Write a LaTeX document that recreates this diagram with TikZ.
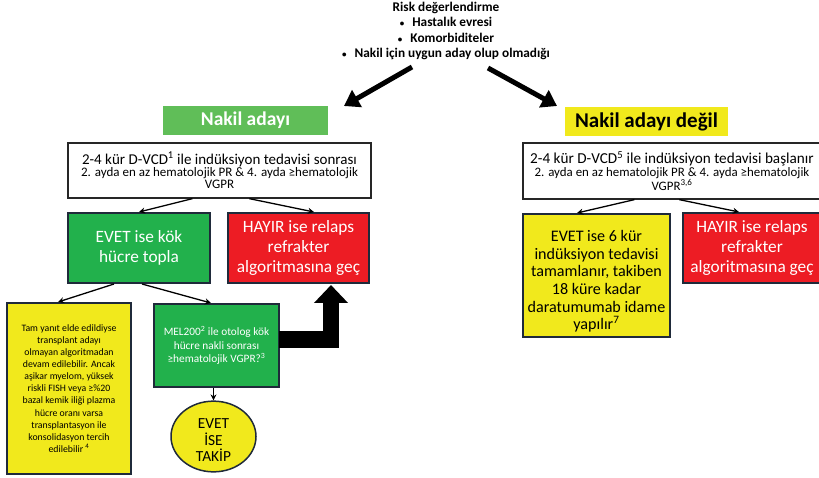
\documentclass[tikz,border=0pt]{standalone}
\usepackage{fontspec}
\setmainfont{Carlito}
\usetikzlibrary{arrows.meta,shapes.geometric,calc}

\definecolor{hgreen}{RGB}{96,190,88}
\definecolor{bgreen}{RGB}{34,177,76}
\definecolor{bred}{RGB}{237,28,36}
\definecolor{byellow}{RGB}{241,233,28}
\definecolor{edge}{RGB}{31,42,58}

\newcommand{\blt}{{\fontsize{9}{9}\selectfont •}\hspace{8pt}}

\tikzset{
  heading/.style={inner sep=0, minimum height=29pt, font=\fontsize{19.5}{22}\selectfont\bfseries},
  whitebox/.style={draw=black!85, line width=1.3pt, fill=white, inner sep=0, align=center},
  colbox/.style={draw=edge, line width=2pt, inner sep=0, align=center},
  thin/.style={line width=1.3pt, -{Stealth[length=6pt,width=6pt]}},
  bigarrow/.style={line width=5pt, -{Triangle[length=15pt,width=19pt]}},
}

\begin{document}
\begin{tikzpicture}[x=1pt,y=-1pt]
\useasboundingbox (0,0) rectangle (819,478);

% assessment header
\node[align=center, font=\fontsize{13.3}{15.3}\selectfont\bfseries] (risk) at (446,31)
  {Risk değerlendirme\\
   \blt Hastalık evresi\\
   \blt Komorbiditeler\\
   \blt Nakil için uygun aday olup olmadığı};

% branch headings
\node[heading, fill=hgreen, text=white, minimum width=165pt] (cand) at (245.5,120.5) {Nakil adayı};
\node[heading, fill=byellow, text=black, minimum width=163pt,
      font=\fontsize{21}{23}\selectfont\bfseries] (noncand) at (646.5,121.5) {Nakil adayı değil};

\coordinate (la0) at (412,67);
\coordinate (la1) at (344,106);
\coordinate (ra0) at (488,68);
\coordinate (ra1) at (557,106);
\draw[bigarrow] (la0) -- (la1);
\draw[bigarrow] (ra0) -- (ra1);

% induction boxes
\node[whitebox, minimum width=303pt, minimum height=55pt] (lw) at (219.5,170.5)
  {\fontsize{15}{15}\selectfont 2-4 kür D-VCD\textsuperscript{1} ile indüksiyon tedavisi sonrası\\[0.5pt]
   \fontsize{13}{13.5}\selectfont 2. ayda en az hematolojik PR \& 4. ayda ≥hematolojik\\
   \fontsize{13}{13.5}\selectfont VGPR};
\node[whitebox, minimum width=298pt, minimum height=56pt] (rw) at (672,171)
  {\fontsize{15.2}{15}\selectfont 2-4 kür D-VCD\textsuperscript{5} ile indüksiyon tedavisi başlanır\\[0.5pt]
   \fontsize{12.9}{13.5}\selectfont 2. ayda en az hematolojik PR \& 4. ayda ≥hematolojik\\
   \fontsize{12.9}{13.5}\selectfont VGPR\textsuperscript{3,6}};

% transplant-candidate branch
\node[colbox, fill=bgreen, text=white, minimum width=142pt, minimum height=70pt,
      font=\fontsize{17.3}{20}\selectfont] (evet) at (139,248)
  {EVET ise kök\\hücre topla};
\node[colbox, fill=bred, text=white, minimum width=141pt, minimum height=70pt,
      font=\fontsize{17.3}{20}\selectfont] (hayir) at (298.5,248)
  {HAYIR ise relaps\\refrakter\\algoritmasına geç};
\node[colbox, fill=byellow, text=black, minimum width=124pt, minimum height=171pt,
      font=\fontsize{9.8}{12.1}\selectfont] (ly) at (69,388.5)
  {Tam yanıt elde edildiyse\\transplant adayı\\olmayan algoritmadan\\devam edilebilir. Ancak\\aşikar myelom, yüksek\\riskli FISH veya ≥\%20\\bazal kemik iliği plazma\\hücre oranı varsa\\transplantasyon ile\\konsolidasyon tercih\\edilebilir \textsuperscript{4}};
\node[colbox, fill=bgreen, text=white, minimum width=125pt, minimum height=83pt,
      font=\fontsize{11.3}{13.5}\selectfont] (mel) at (216.5,345.5)
  {MEL200\textsuperscript{2} ile otolog kök\\hücre nakli sonrası\\≥hematolojik VGPR?\textsuperscript{3}};
\node[ellipse, draw=edge, line width=1.5pt, fill=byellow, inner sep=0,
      minimum width=85pt, minimum height=67pt, align=center,
      font=\fontsize{15.4}{16.5}\selectfont] (takip) at (213.5,436.5)
  {\rule{0pt}{17pt}EVET\\İSE\\TAKİP};

% non-candidate branch
\node[colbox, fill=byellow, text=black, minimum width=147pt, minimum height=123pt,
      font=\fontsize{16.1}{17.6}\selectfont] (ry) at (596.5,275.5)
  {\rule{0pt}{23pt}EVET ise 6 kür\\indüksiyon tedavisi\\tamamlanır, takiben\\18 küre kadar\\daratumumab idame\\yapılır\textsuperscript{7}};
\node[colbox, fill=bred, text=white, minimum width=138pt, minimum height=70pt,
      font=\fontsize{17.3}{20}\selectfont] (rr) at (752,248)
  {HAYIR ise relaps\\refrakter\\algoritmasına geç};

% connectors
\draw[thin] ($(lw.south west)+(125,0)$) -- (evet.north);
\draw[thin] ($(lw.south west)+(182,0)$) -- ($(hayir.north west)+(87,0)$);
\draw[thin] ($(evet.south west)+(47,0)$) -- ($(ly.north west)+(52,0)$);
\draw[thin] ($(evet.south)+(3,0)$) -- ($(mel.north west)+(58,0)$);
\draw[thin] (takip.north |- mel.south) -- (takip.north);
\draw[thin] ($(rw.south west)+(112,0)$) -- ($(ry.north west)+(55,0)$);
\draw[thin] ($(rw.south west)+(157,0)$) -- ($(rr.north west)+(57,0)$);

% relapse path after transplant
\draw[line width=16.5pt, -{Triangle[length=18pt,width=33pt]}]
  ($(mel.east)+(-1,-6)$) -| ($(hayir.south west)+(104,1)$);
\end{tikzpicture}
\end{document}
